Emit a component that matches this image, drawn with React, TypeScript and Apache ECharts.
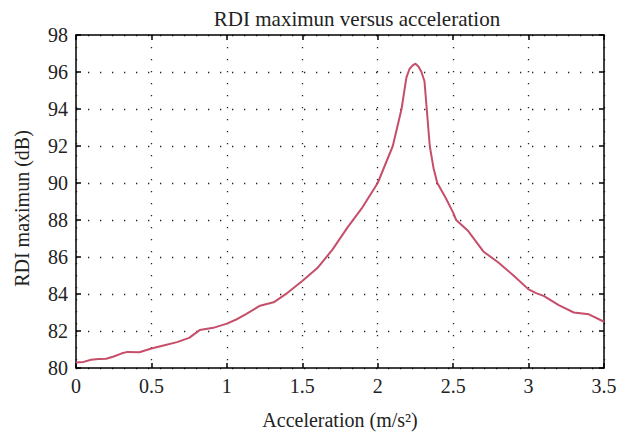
import React, { useEffect, useRef } from "react";
import * as echarts from "echarts";

const accel = [0, 0.05, 0.1, 0.15, 0.2, 0.25, 0.3, 0.34, 0.42, 0.5, 0.58, 0.67, 0.75, 0.82, 0.91, 1.0, 1.07, 1.13, 1.22, 1.31, 1.4, 1.5, 1.6, 1.7, 1.8, 1.9, 2.0, 2.05, 2.1, 2.158, 2.19, 2.21, 2.23, 2.25, 2.27, 2.29, 2.31, 2.325, 2.345, 2.37, 2.395, 2.45, 2.5, 2.52, 2.6, 2.7, 2.8, 2.9, 3.0, 3.05, 3.1, 3.2, 3.3, 3.4, 3.5];
const rdi = [80.3, 80.33, 80.45, 80.48, 80.5, 80.62, 80.78, 80.87, 80.85, 81.05, 81.22, 81.4, 81.63, 82.05, 82.17, 82.4, 82.65, 82.93, 83.37, 83.55, 84.05, 84.7, 85.4, 86.4, 87.6, 88.7, 90.0, 91.0, 92.0, 94.0, 95.7, 96.15, 96.35, 96.45, 96.3, 96.0, 95.5, 94.0, 92.0, 90.8, 90.0, 89.2, 88.4, 88.0, 87.4, 86.3, 85.7, 85.0, 84.25, 84.05, 83.9, 83.4, 83.0, 82.9, 82.5];

const titleText = "RDI maximun versus acceleration";
const xName = "Acceleration (m/s²)";
const yName = "RDI maximun (dB)";

const FONT = "Liberation Serif";

export default function App() {
  const ref = useRef<HTMLDivElement>(null);
  useEffect(() => {
    if (!ref.current) return;
    const chart = echarts.init(ref.current, undefined, { renderer: "svg" });
    const dotted = { show: true, lineStyle: { color: "#222", width: 1.3, type: [1.3, 10.7] as any } };
    const axisLine = { show: true, onZero: false, lineStyle: { color: "#000", width: 1.5 } };
    const tick = { show: true, inside: true, length: 5, lineStyle: { color: "#000", width: 1.5 } };
    const txt = { fontFamily: FONT, fontSize: 20, color: "#222" };
    chart.setOption({
      animation: false,
      backgroundColor: "#fff",
      textStyle: { fontFamily: FONT },
      title: {
        text: titleText,
        left: 352,
        textAlign: "center",
        top: 3,
        textStyle: { fontFamily: FONT, fontSize: 21, fontWeight: "normal", color: "#222" },
      },
      grid: { left: 76, right: 31, top: 35, bottom: 65 },
      xAxis: [
        {
          type: "value", min: 0, max: 3.5, interval: 0.5, position: "bottom",
          axisLine, axisTick: tick,
          axisLabel: { margin: 8, ...txt },
          splitLine: dotted,
          name: xName, nameLocation: "middle", nameGap: 42,
          nameTextStyle: { ...txt },
        },
        {
          type: "value", min: 0, max: 3.5, interval: 0.5, position: "top",
          axisLine, axisTick: tick, axisLabel: { show: false }, splitLine: { show: false },
        },
      ],
      yAxis: [
        {
          type: "value", min: 80, max: 98, interval: 2, position: "left",
          axisLine, axisTick: tick,
          axisLabel: { margin: 8, ...txt },
          splitLine: dotted,
          name: yName, nameLocation: "middle", nameGap: 44,
          nameTextStyle: { ...txt, padding: [0, 14, 0, 0] },
        },
        {
          type: "value", min: 80, max: 98, interval: 2, position: "right",
          axisLine, axisTick: tick, axisLabel: { show: false }, splitLine: { show: false },
        },
      ],
      series: [
        {
          type: "line",
          xAxisIndex: 0,
          yAxisIndex: 0,
          data: accel.map((a, i) => [a, rdi[i]]),
          showSymbol: false,
          symbol: "none",
          lineStyle: { color: "#c64e6a", width: 2 },
        },
      ],
    });
    return () => chart.dispose();
  }, []);
  return <div ref={ref} style={{ position: "fixed", left: 0, top: 0, width: 635, height: 435 }} />;
}
